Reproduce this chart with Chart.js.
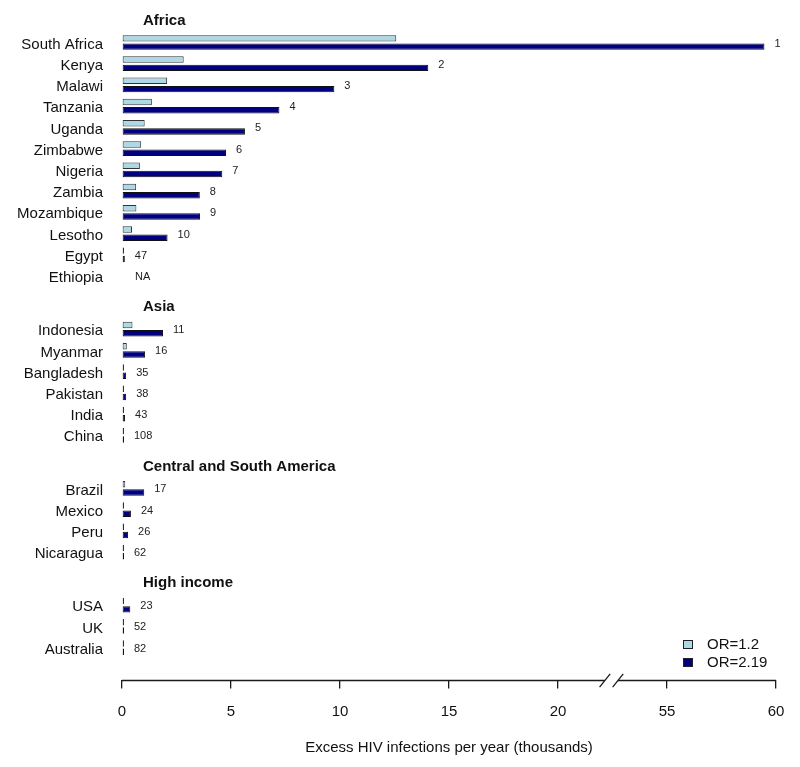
<!DOCTYPE html>
<html><head><meta charset="utf-8">
<script src="https://cdn.jsdelivr.net/npm/chart.js@4.4.1/dist/chart.umd.min.js"></script>
<style>html,body{margin:0;padding:0;background:#fff}#wrap{width:800px;height:767px;position:relative}</style>
</head><body><div id="wrap"><canvas id="c" width="800" height="767"></canvas></div>
<script>
// ---- data ----
const regionNames = ["Africa", "Asia", "Central and South America", "High income"];

const africaCountries = ["South Africa","Kenya","Malawi","Tanzania","Uganda","Zimbabwe","Nigeria","Zambia","Mozambique","Lesotho","Egypt","Ethiopia"];
const africaOR12  = [12.58, 2.83, 2.07, 1.37, 1.04, 0.88, 0.82, 0.65, 0.66, 0.46, 0.03, null];
const africaOR219 = [59.47, 14.05, 9.74, 7.22, 5.64, 4.77, 4.60, 3.57, 3.58, 2.09, 0.13, null];
const africaRanks = ["1","2","3","4","5","6","7","8","9","10","47","NA"];

const asiaCountries = ["Indonesia","Myanmar","Bangladesh","Pakistan","India","China"];
const asiaOR12  = [0.48, 0.22, 0.04, 0.04, 0.03, 0.01];
const asiaOR219 = [1.88, 1.06, 0.19, 0.19, 0.14, 0.03];
const asiaRanks = ["11","16","35","38","43","108"];

const americaCountries = ["Brazil","Mexico","Peru","Nicaragua"];
const americaOR12  = [0.15, 0.06, 0.05, 0.01];
const americaOR219 = [1.02, 0.41, 0.28, 0.03];
const americaRanks = ["17","24","26","62"];

const highCountries = ["USA","UK","Australia"];
const highOR12  = [0.06, 0.01, 0.01];
const highOR219 = [0.38, 0.04, 0.02];
const highRanks = ["23","52","82"];

const seriesLabels = ["OR=1.2", "OR=2.19"];
const xTickLabels = ["0","5","10","15","20","55","60"];
const xTitle = "Excess HIV infections per year (thousands)";

// ---- broken axis: values above the break are drawn shifted by 30 ----
const BREAK_SHIFT = 30;
const disp = v => (v == null ? null : (v > 40 ? v - BREAK_SHIFT : v));

// ---- build rows ----
const groups = [
  {name: regionNames[0], c: africaCountries, lo: africaOR12, hi: africaOR219, r: africaRanks},
  {name: regionNames[1], c: asiaCountries, lo: asiaOR12, hi: asiaOR219, r: asiaRanks},
  {name: regionNames[2], c: americaCountries, lo: americaOR12, hi: americaOR219, r: americaRanks},
  {name: regionNames[3], c: highCountries, lo: highOR12, hi: highOR219, r: highRanks}
];
const rows = [], headers = [];
let pos = 0;
groups.forEach(g => {
  headers.push({name: g.name, pos: pos - 1.03});
  g.c.forEach((name, i) => {
    rows.push({name, pos: pos + i, lo: g.lo[i], hi: g.hi[i], rank: g.r[i]});
  });
  pos += g.c.length - 1 + 2.5;
});

const FONT = '"Liberation Sans", Arial, Helvetica, sans-serif';
Chart.defaults.font.family = FONT;
Chart.defaults.color = '#111';

const overlay = {
  id: 'overlay',
  afterDraw(chart) {
    const {ctx, chartArea, scales: {x, y}} = chart;
    ctx.save();
    // x axis line with break marks
    const ay = Math.round(chartArea.bottom) + 0.5;
    const b1 = x.getPixelForValue(22.15), b2 = x.getPixelForValue(22.75);
    ctx.strokeStyle = '#1a1a1a';
    ctx.lineWidth = 1.3;
    ctx.beginPath();
    ctx.moveTo(x.getPixelForValue(0), ay); ctx.lineTo(b1, ay);
    ctx.moveTo(b2, ay); ctx.lineTo(x.getPixelForValue(30), ay);
    ctx.stroke();
    ctx.beginPath();
    [b1, b2].forEach(bx => { ctx.moveTo(bx - 5.3, ay + 6.7); ctx.lineTo(bx + 5.3, ay - 6.7); });
    ctx.stroke();

    // region headers
    ctx.fillStyle = '#111';
    ctx.textBaseline = 'middle';
    ctx.textAlign = 'left';
    ctx.font = 'bold 15px ' + FONT;
    headers.forEach(h => ctx.fillText(h.name, chartArea.left + 21, y.getPixelForValue(h.pos)));

    // rank labels
    ctx.font = '11px ' + FONT;
    ctx.fillStyle = '#222';
    const x0 = x.getPixelForValue(0);
    rows.forEach(r => {
      const v = r.hi == null ? 0 : disp(r.hi);
      const px = r.hi == null ? x0 + 3 : Math.max(x.getPixelForValue(v), x0 + 2);
      ctx.fillText(r.rank, px + 10, y.getPixelForValue(r.pos) + 1);
    });

    // legend
    const lx = chartArea.right - 93;
    const items = [
      {label: seriesLabels[0], color: '#ADD8E6', top: chartArea.bottom - 39.5},
      {label: seriesLabels[1], color: '#000080', top: chartArea.bottom - 21.5}
    ];
    ctx.font = '15px ' + FONT;
    items.forEach(it => {
      ctx.fillStyle = it.color;
      ctx.fillRect(lx, it.top, 10, 9);
      ctx.strokeStyle = '#222';
      ctx.lineWidth = 1;
      ctx.strokeRect(lx + 0.5, it.top + 0.5, 9, 8);
      ctx.fillStyle = '#111';
      ctx.fillText(it.label, lx + 24, it.top + 5);
    });
    ctx.restore();
  }
};

new Chart(document.getElementById('c'), {
  type: 'bar',
  data: {
    datasets: [
      {
        label: seriesLabels[0],
        data: rows.map(r => ({x: disp(r.lo), y: r.pos})),
        backgroundColor: '#ADD8E6',
        borderColor: '#333333',
        borderWidth: 1,
        borderSkipped: false,
        minBarLength: 2,
        categoryPercentage: 0.78,
        barPercentage: 0.77
      },
      {
        label: seriesLabels[1],
        data: rows.map(r => ({x: disp(r.hi), y: r.pos})),
        backgroundColor: '#000080',
        borderColor: '#111111',
        borderWidth: 1,
        borderSkipped: false,
        minBarLength: 2,
        categoryPercentage: 0.78,
        barPercentage: 0.77
      }
    ]
  },
  options: {
    indexAxis: 'y',
    responsive: false,
    devicePixelRatio: 1,
    animation: false,
    layout: {padding: {left: 0, right: 24, top: 0, bottom: 0}},
    plugins: {legend: {display: false}, tooltip: {enabled: false}},
    scales: {
      x: {
        type: 'linear',
        offset: false,
        min: 0, max: 30,
        afterBuildTicks: s => { s.ticks = xTickLabels.map((t, i) => ({value: i * 5})); },
        afterFit: s => { s.height = 87.5; },
        border: {display: false},
        grid: {offset: false, drawOnChartArea: false, drawTicks: true, tickLength: 9, color: '#1a1a1a', lineWidth: 1.3},
        ticks: {
          padding: 14,
          font: {size: 15},
          color: '#111',
          maxRotation: 0,
          autoSkip: false,
          callback: (v, i) => xTickLabels[i]
        },
        title: {display: true, text: xTitle, font: {size: 15}, color: '#111', padding: {top: 0, bottom: 10}}
      },
      y: {
        type: 'linear',
        offset: false,
        reverse: true,
        min: -2, max: 30,
        afterBuildTicks: s => { s.ticks = rows.map(r => ({value: r.pos})); },
        afterFit: s => { s.width = 122; s.paddingTop = 0; s.paddingBottom = 0; },
        border: {display: false},
        grid: {display: false, drawTicks: false, offset: false},
        ticks: {
          padding: 19,
          labelOffset: 2,
          font: {size: 15},
          color: '#111',
          autoSkip: false,
          callback: (v, i) => rows[i] ? rows[i].name : ''
        }
      }
    }
  },
  plugins: [overlay]
});
</script></body></html>
